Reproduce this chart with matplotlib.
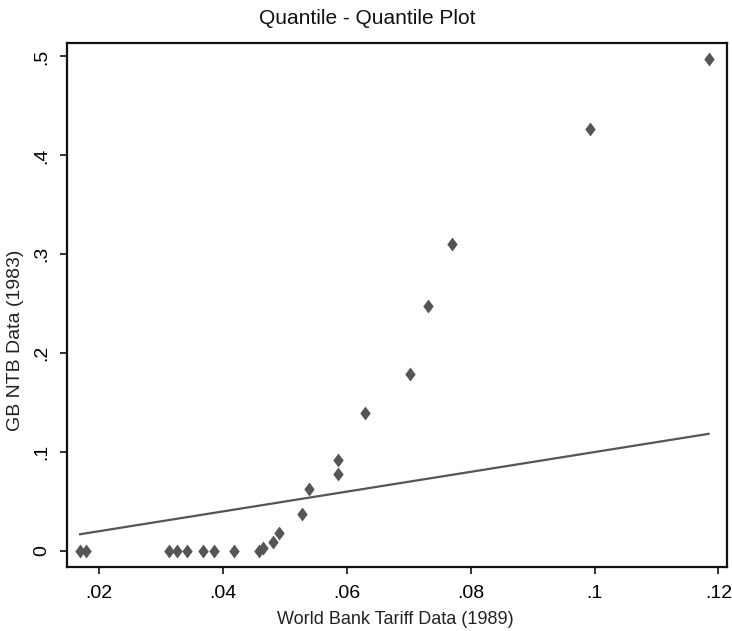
import numpy as np
import matplotlib
matplotlib.use("Agg")
import matplotlib.pyplot as plt

# quantiles
wb_tariff = [0.0169, 0.0179, 0.0312, 0.0326, 0.0341, 0.0368, 0.0386, 0.0417,
             0.0458, 0.0464, 0.0480, 0.0491, 0.0527, 0.0539, 0.0585, 0.0585,
             0.0629, 0.0702, 0.0731, 0.0770, 0.0993, 0.1184]
gb_ntb = [0.0, 0.0, 0.0, 0.0, 0.0, 0.0, 0.0, 0.0,
          0.0, 0.003, 0.0095, 0.018, 0.037, 0.063, 0.078, 0.092,
          0.139, 0.179, 0.248, 0.310, 0.427, 0.497]
xticks = [0.02, 0.04, 0.06, 0.08, 0.10, 0.12]
xticklabels = [".02", ".04", ".06", ".08", ".1", ".12"]
yticks = [0, 0.1, 0.2, 0.3, 0.4, 0.5]
yticklabels = ["0", ".1", ".2", ".3", ".4", ".5"]

plt.rcParams['font.family'] = ['Liberation Sans', 'DejaVu Sans']

fig = plt.figure(figsize=(7.32, 6.31), dpi=100)
ax = fig.add_axes([0.0915, 0.1010, 0.9015, 0.8304])

diamond = [(0, 1), (0.75, 0), (0, -1), (-0.75, 0), (0, 1)]
ax.plot(wb_tariff, gb_ntb, linestyle='none', marker=diamond, markersize=10,
        color='#555555', markeredgewidth=0)
# reference line y = x
ref = np.array([min(wb_tariff), max(wb_tariff)])
ax.plot(ref, ref, color='#555555', lw=1.6)

ax.set_xlim(0.01478, 0.12136)
ax.set_ylim(-0.0165, 0.5133)
ax.set_xticks(xticks)
ax.set_xticklabels(xticklabels, fontsize=14)
ax.set_yticks(yticks)
ax.set_yticklabels(yticklabels, fontsize=14, rotation=90, va='center')
ax.tick_params(axis='x', direction='out', length=5, width=1.3, color='#222222', pad=8)
ax.tick_params(axis='y', direction='out', length=5, width=1.3, color='#222222', pad=7)

for s in ax.spines.values():
    s.set_linewidth(1.6)
    s.set_color('#111111')

fig.text(0.502, 0.970, "Quantile - Quantile Plot", ha='center', va='center',
         fontsize=15, color='#111111')
fig.text(0.54, 0.018, "World Bank Tariff Data (1989)", ha='center', va='center',
         fontsize=13, color='#222222')
fig.text(0.021, 0.46, "GB NTB Data (1983)", ha='center', va='center',
         rotation=90, fontsize=14, color='#222222')

fig.savefig("out.png", dpi=100)
